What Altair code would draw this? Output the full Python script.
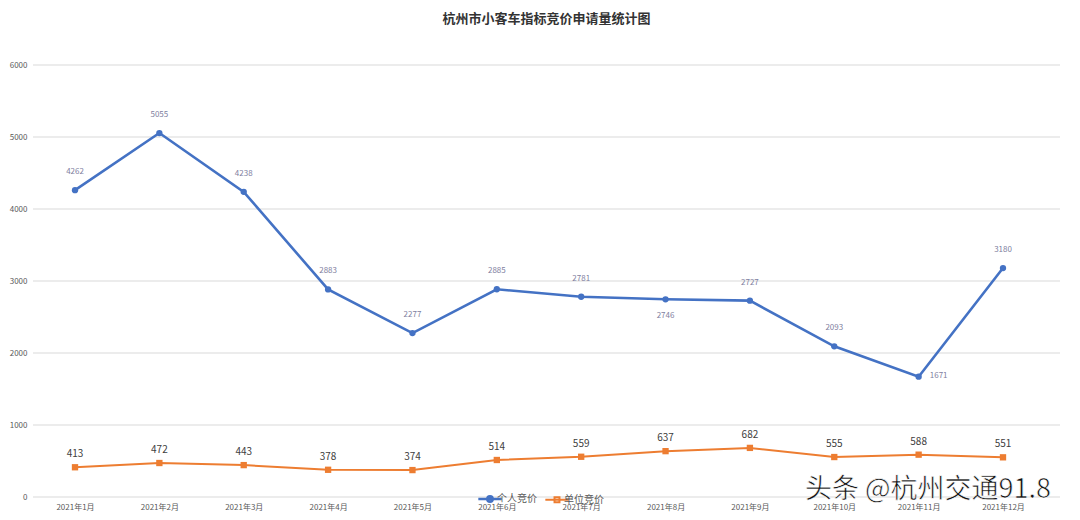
import altair as alt
import pandas as pd

months = ["2021年1月", "2021年2月", "2021年3月", "2021年4月", "2021年5月", "2021年6月",
          "2021年7月", "2021年8月", "2021年9月", "2021年10月", "2021年11月", "2021年12月"]
personal = [4262, 5055, 4238, 2883, 2277, 2885, 2781, 2746, 2727, 2093, 1671, 3180]
company = [413, 472, 443, 378, 374, 514, 559, 637, 682, 555, 588, 551]
series_names = ["个人竞价", "单位竞价"]
series_colors = ["#4472C4", "#ED7D31"]
y_ticks = [0, 1000, 2000, 3000, 4000, 5000, 6000]
title_text = "杭州市小客车指标竞价申请量统计图"
watermark = "头条 @杭州交通91.8"

rows = []
for m, v in zip(months, personal):
    rows.append({"month": m, "value": v, "series": series_names[0]})
for m, v in zip(months, company):
    rows.append({"month": m, "value": v, "series": series_names[1]})
df = pd.DataFrame(rows)

FONT = "Noto Sans CJK SC"

x = alt.X("month:N", sort=months, title=None,
          scale=alt.Scale(type="point", range=[42, 970], padding=0),
          axis=alt.Axis(labelAngle=0, labelFontSize=8, labelColor="#595959", ticks=False,
                        domain=False, labelPadding=6, labelFont=FONT))
yscale = alt.Scale(domain=[0, 6000], nice=False)
yaxis = alt.Axis(values=y_ticks, format="d", labelFontSize=8,
                 labelColor="#595959", ticks=False, domain=False, grid=False,
                 labelPadding=6, labelFont=FONT)
y = alt.Y("value:Q", title=None, scale=yscale, axis=yaxis)

color_scale = alt.Scale(domain=series_names, range=series_colors)
color = alt.Color("series:N", scale=color_scale,
                  legend=alt.Legend(title=None, orient="none", legendX=452, legendY=429,
                                    direction="horizontal", labelFontSize=10, labelColor="#595959",
                                    symbolSize=50, symbolOpacity=1, symbolStrokeWidth=2,
                                    labelFont=FONT, columnPadding=4, labelOffset=2))

LEG_CIRCLE = "M-3.3,0H3.3M0.75,0A0.75,0.75,0,1,1,-0.75,0A0.75,0.75,0,1,1,0.75,0Z"
LEG_SQUARE = "M-3.3,0H3.3M-0.7,-0.7H0.7V0.7H-0.7Z"

grid = alt.Chart(pd.DataFrame({"value": y_ticks})).mark_rule(color="#d9d9d9", strokeWidth=1).encode(
    y=y, x=alt.value(0), x2=alt.value(1027))

base = alt.Chart(df).encode(x=x, y=y)

lines = base.mark_line().encode(
    color=color,
    strokeWidth=alt.StrokeWidth("series:N", scale=alt.Scale(domain=series_names, range=[2.6, 2]), legend=None))

legend_src = base.mark_point(filled=True, opacity=0).encode(
    color=color,
    stroke=alt.Stroke("series:N", scale=color_scale),
    shape=alt.Shape("series:N", scale=alt.Scale(domain=series_names, range=[LEG_CIRCLE, LEG_SQUARE])))

pts_p = base.transform_filter(alt.datum.series == series_names[0]).mark_point(
    filled=True, size=40, opacity=1, shape="circle").encode(color=color)
pts_c = base.transform_filter(alt.datum.series == series_names[1]).mark_point(
    filled=True, size=40, opacity=1, shape="square").encode(color=color)

p_df = base.transform_filter(alt.datum.series == series_names[0])
lbl_p_above = p_df.transform_filter(
    (alt.datum.month != "2021年8月") & (alt.datum.month != "2021年11月")
).mark_text(dy=-18, fontSize=8, color="#8080a0", font=FONT).encode(text="value:Q")
lbl_p_below = p_df.transform_filter(alt.datum.month == "2021年8月").mark_text(
    dy=17, fontSize=8, color="#8080a0", font=FONT).encode(text="value:Q")
lbl_p_right = p_df.transform_filter(alt.datum.month == "2021年11月").mark_text(
    dx=20, dy=-1, fontSize=8, color="#8080a0", font=FONT).encode(text="value:Q")

lbl_c = base.transform_filter(alt.datum.series == series_names[1]).mark_text(
    dy=-13, fontSize=10, color="#404040", font=FONT).encode(text="value:Q")

wm = alt.Chart(pd.DataFrame({"t": [watermark]})).mark_text(
    align="right", baseline="middle", fontSize=27, font=FONT, color="#111111",
    stroke="#ffffff", strokeWidth=0.6
).encode(x=alt.value(1018), y=alt.value(425), text="t:N")

chart = alt.layer(grid, lines, legend_src, pts_p, pts_c, lbl_p_above, lbl_p_below, lbl_p_right,
                  lbl_c, wm).properties(
    width=1027, height=432,
    background="white",
    title=alt.Title(title_text, fontSize=13, font=FONT, fontWeight="bold", color="#333333",
                    anchor="middle", offset=35),
    autosize=alt.AutoSizeParams(type="none"),
    padding={"left": 25, "top": 57, "right": 12, "bottom": 15},
).configure_view(stroke=None)

chart.save("out.html", embed_options={"renderer": "svg", "actions": False})
